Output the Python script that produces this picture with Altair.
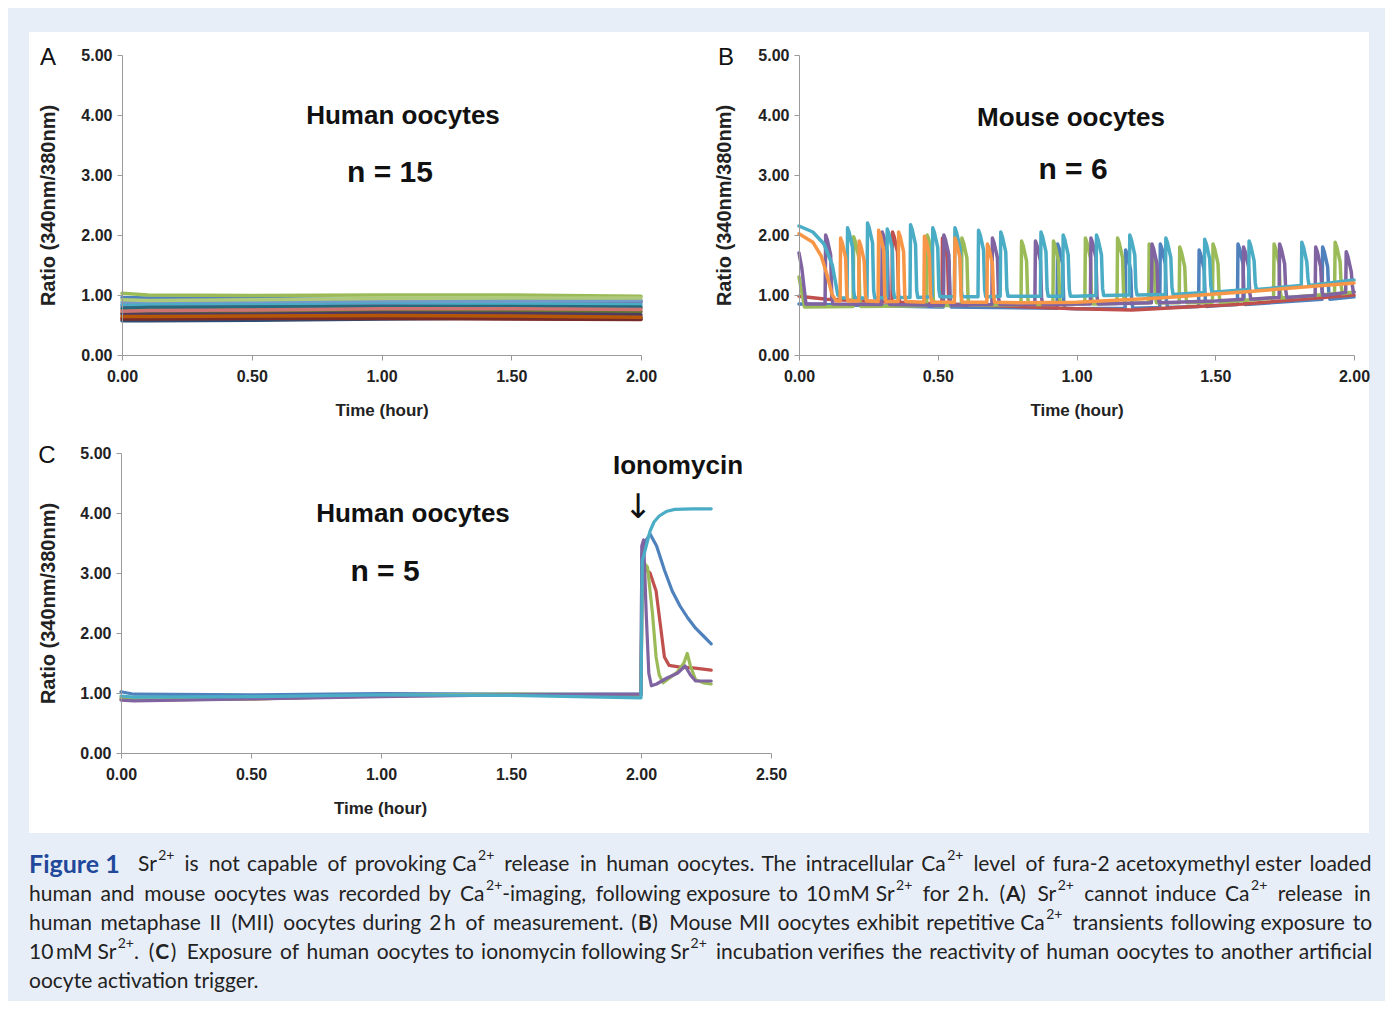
import re
import altair as alt
import pandas as pd

# ------------------------------------------------------------------ data
RATIO_TICKS = [0, 1, 2, 3, 4, 5]
TIME_TICKS_AB = [0, 0.5, 1.0, 1.5, 2.0]
TIME_TICKS_C = [0, 0.5, 1.0, 1.5, 2.0, 2.5]

EXCEL_COLORS = ["#4F81BD", "#C0504D", "#9BBB59", "#8064A2", "#4BACC6", "#F79646",
                "#2C4D75", "#772C2A", "#5F7530", "#4D3B62", "#276A7C", "#B65708",
                "#729ACA", "#CD7371", "#AFC97A"]

# Panel A: 15 human oocytes, ratio read at these times (hour)
A_TIMES = [0.0, 0.1, 0.5, 1.0, 1.5, 2.0]
A_VALUES = [
    [0.96, 0.95, 0.94, 0.92, 0.91, 0.90],
    [0.62, 0.62, 0.63, 0.63, 0.61, 0.60],
    [1.03, 1.00, 0.99, 1.00, 1.00, 0.98],
    [0.82, 0.82, 0.83, 0.84, 0.85, 0.88],
    [0.84, 0.85, 0.86, 0.87, 0.86, 0.84],
    [0.75, 0.76, 0.78, 0.80, 0.79, 0.78],
    [0.57, 0.57, 0.58, 0.60, 0.62, 0.63],
    [0.60, 0.60, 0.61, 0.61, 0.60, 0.59],
    [0.70, 0.70, 0.71, 0.73, 0.73, 0.72],
    [0.68, 0.68, 0.68, 0.70, 0.69, 0.67],
    [0.78, 0.79, 0.80, 0.81, 0.81, 0.80],
    [0.64, 0.64, 0.65, 0.66, 0.65, 0.63],
    [0.88, 0.89, 0.89, 0.90, 0.90, 0.91],
    [0.73, 0.74, 0.75, 0.77, 0.77, 0.76],
    [0.92, 0.91, 0.92, 0.94, 0.95, 0.95],
]

# Panel B: 6 mouse oocytes. Baseline points (t, ratio) and transients (onset, base, peak)
B_BASE = [
    [(0.0, 0.85), (0.5, 0.80), (1.0, 0.77), (1.5, 0.82), (2.0, 0.97)],
    [(0.0, 0.98), (0.1, 0.93), (0.5, 0.85), (1.0, 0.77), (1.2, 0.75), (1.6, 0.85), (2.0, 1.00)],
    [(0.0, 1.30), (0.02, 0.80), (0.5, 0.82), (1.0, 0.85), (1.5, 0.88), (2.0, 1.05)],
    [(0.0, 1.70), (0.01, 1.45), (0.025, 0.85), (0.5, 0.83), (1.0, 0.85), (1.5, 0.90), (2.0, 1.05)],
    [(0.0, 2.15), (0.05, 2.05), (0.09, 1.85), (0.12, 1.50), (0.14, 1.00), (0.15, 0.95),
     (0.5, 0.97), (1.0, 0.98), (1.5, 1.05), (2.0, 1.25)],
    [(0.0, 2.02), (0.05, 1.88), (0.08, 1.65), (0.10, 1.35), (0.12, 1.00), (0.135, 0.90),
     (0.5, 0.88), (0.8, 0.87), (1.0, 0.88), (1.3, 0.95), (1.6, 1.05), (2.0, 1.20)],
]
B_SPIKES = [
    [(0.52, 0.80, 1.90), (0.93, 0.78, 1.85), (1.175, 0.78, 1.75), (1.30, 0.79, 1.85),
     (1.44, 0.81, 1.75), (1.58, 0.84, 1.85), (1.885, 0.93, 1.80)],
    [(0.335, 0.88, 2.05), (0.515, 0.85, 1.95)],
    [(0.195, 0.81, 1.97), (0.46, 0.82, 2.00), (0.585, 0.83, 1.95), (0.80, 0.84, 1.90),
     (0.915, 0.84, 1.90), (1.03, 0.85, 1.95), (1.146, 0.86, 1.95), (1.26, 0.87, 1.85),
     (1.37, 0.87, 1.80), (1.49, 0.88, 1.85), (1.71, 0.95, 1.85), (1.93, 1.02, 1.88)],
    [(0.094, 0.85, 2.00), (0.298, 0.84, 2.05), (0.52, 0.83, 2.00), (0.695, 0.84, 1.95),
     (0.85, 0.84, 1.90), (1.05, 0.85, 1.95), (1.27, 0.87, 1.85), (1.60, 0.93, 1.80),
     (1.73, 0.96, 1.85), (1.86, 0.99, 1.80), (1.97, 1.04, 1.72)],
    [(0.173, 0.95, 2.12), (0.245, 0.95, 2.20), (0.316, 0.96, 2.10), (0.40, 0.96, 2.17),
     (0.48, 0.97, 2.12), (0.56, 0.97, 2.12), (0.645, 0.97, 2.08), (0.725, 0.98, 2.05),
     (0.87, 0.98, 2.05), (0.95, 0.98, 2.00), (1.07, 0.99, 2.00), (1.19, 1.00, 2.00),
     (1.32, 1.01, 1.95), (1.46, 1.04, 1.93), (1.62, 1.09, 1.90), (1.81, 1.16, 1.88)],
    [(0.148, 0.90, 1.95), (0.215, 0.90, 1.90), (0.285, 0.89, 2.08), (0.357, 0.89, 2.05),
     (0.45, 0.88, 1.98), (0.56, 0.88, 1.95), (0.677, 0.88, 1.85)],
]
B_COLORS = ["#4F81BD", "#C0504D", "#9BBB59", "#8064A2", "#4BACC6", "#F79646"]
SPIKE_DT = [0.0, 0.002, 0.008, 0.020, 0.024, 0.028]

# Panel C: 5 human oocytes, Sr2+ then ionomycin at 2 h
C_SERIES = [
    [(0.0, 1.02), (0.05, 0.98), (0.5, 0.97), (1.0, 0.99), (1.5, 0.98), (2.0, 0.98),
     (2.003, 3.30), (2.02, 3.55), (2.035, 3.65), (2.06, 3.45), (2.09, 3.05), (2.12, 2.70),
     (2.15, 2.45), (2.18, 2.25), (2.21, 2.08), (2.24, 1.95), (2.27, 1.82)],
    [(0.0, 0.90), (0.05, 0.88), (0.5, 0.90), (1.0, 0.95), (1.5, 0.97), (2.0, 0.97),
     (2.005, 3.10), (2.035, 3.00), (2.058, 2.70), (2.077, 2.05), (2.09, 1.60), (2.108, 1.46),
     (2.15, 1.43), (2.20, 1.42), (2.27, 1.38)],
    [(0.0, 0.92), (0.05, 0.89), (0.5, 0.90), (1.0, 0.96), (1.5, 0.98), (2.0, 0.97),
     (2.005, 3.20), (2.025, 3.10), (2.044, 2.33), (2.058, 1.60), (2.07, 1.30), (2.085, 1.17),
     (2.11, 1.25), (2.14, 1.35), (2.165, 1.50), (2.178, 1.66), (2.19, 1.45), (2.21, 1.22),
     (2.24, 1.17), (2.27, 1.15)],
    [(0.0, 0.88), (0.05, 0.87), (0.5, 0.90), (1.0, 0.94), (1.5, 0.97), (2.0, 0.98),
     (2.003, 3.45), (2.01, 3.55), (2.02, 2.33), (2.03, 1.33), (2.04, 1.12), (2.06, 1.15),
     (2.10, 1.25), (2.14, 1.33), (2.17, 1.45), (2.19, 1.30), (2.21, 1.20), (2.27, 1.20)],
    [(0.0, 0.95), (0.05, 0.93), (0.5, 0.94), (1.0, 0.97), (1.5, 0.96), (2.0, 0.92),
     (2.005, 3.20), (2.02, 3.45), (2.035, 3.70), (2.05, 3.85), (2.07, 3.95), (2.10, 4.03),
     (2.13, 4.06), (2.20, 4.07), (2.27, 4.07)],
]
C_COLORS = ["#4F81BD", "#C0504D", "#9BBB59", "#8064A2", "#4BACC6"]

# Caption: ^x = superscript, *x* = bold; lines 0-3 justified, line 4 ragged
FIG_LABEL = "Figure 1"
CAPTION_LINES = [
    "Sr^2+ is not capable of provoking Ca^2+ release in human oocytes. The intracellular "
    "Ca^2+ level of fura-2 acetoxymethyl ester loaded",
    "human and mouse oocytes was recorded by Ca^2+-imaging, following exposure to "
    "10\u2009mM Sr^2+ for 2\u2009h. (*A*) Sr^2+ cannot induce Ca^2+ release in",
    "human metaphase II (MII) oocytes during 2\u2009h of measurement. (*B*) Mouse MII oocytes "
    "exhibit repetitive Ca^2+ transients following exposure to",
    "10\u2009mM Sr^2+. (*C*) Exposure of human oocytes to ionomycin following Sr^2+ incubation "
    "verifies the reactivity of human oocytes to another artificial",
    "oocyte activation trigger.",
]
CAPTION_LINE_Y = [865, 895, 924, 953, 982]
CAPTION_LINE_X0 = [138, 29, 29, 29, 29]

# ------------------------------------------------------------------ layout
W, H = 1377, 993
M = 8  # page margin: chart px = page px - 8
A_X, A_Y = [114, 633], [347, 47]
B_X, B_Y = [791, 1346], [347, 47]
C_X, C_Y = [113, 763], [745, 445]
CAP_RIGHT = 1370

AX_FONT = "Liberation Sans"
CAP_FONT = "Lato"
AXC = "#9a9a9a"


def axis_x(off, values, title_x=None):
    kw = dict(titleX=title_x) if title_x is not None else {}
    return alt.Axis(orient="bottom", offset=off, values=values, format=".2f", grid=False,
                    zindex=2, domainColor=AXC, tickColor=AXC, tickSize=5, labelPadding=8,
                    labelFont=AX_FONT, labelFontSize=16, labelFontWeight="bold",
                    labelColor="#222", labelFlush=False, labelOverlap=False,
                    title="Time (hour)", titleFont=AX_FONT, titleFontSize=17,
                    titleFontWeight="bold", titleColor="#222", titleY=55,
                    titleBaseline="middle", **kw)


def axis_y(off, ymid, tx=-74):
    return alt.Axis(orient="left", offset=off, values=RATIO_TICKS, format=".2f", grid=False,
                    zindex=2, domainColor=AXC, tickColor=AXC, tickSize=5, labelPadding=5,
                    labelFont=AX_FONT, labelFontSize=16, labelFontWeight="bold",
                    labelColor="#222", labelOverlap=False,
                    title="Ratio (340nm/380nm)", titleFont=AX_FONT, titleFontSize=20,
                    titleFontWeight="bold", titleColor="#222", titleX=tx, titleY=ymid,
                    titleBaseline="middle", titleAngle=270)


# ---- data frames
rows = []
for i, vals in enumerate(A_VALUES):
    for t, v in zip(A_TIMES, vals):
        rows.append({"s": f"a{i:02d}", "t": t, "v": v})
dfA = pd.DataFrame(rows)

rows = []
for i, (base, spikes) in enumerate(zip(B_BASE, B_SPIKES)):
    pts = []
    windows = [(s[0], s[0] + SPIKE_DT[-1]) for s in spikes]
    for t, v in base:
        if not any(a <= t <= b for a, b in windows):
            pts.append((t, v))
    for ton, b, p in spikes:
        shape = [b, p, p - 0.08, p - 0.33, b + 0.12, b]
        for dt, v in zip(SPIKE_DT, shape):
            pts.append((ton + dt, v))
    pts.sort()
    for t, v in pts:
        rows.append({"s": f"b{i:02d}", "t": t, "v": v})
dfB = pd.DataFrame(rows)

rows = []
for i, ser in enumerate(C_SERIES):
    for t, v in ser:
        rows.append({"s": f"c{i:02d}", "t": t, "v": v})
dfC = pd.DataFrame(rows)


def lines(df, colors, xr, yr, xdom, xaxis, yaxis, sw):
    names = sorted(df["s"].unique())
    return alt.Chart(df).mark_line(strokeWidth=sw, strokeJoin="round", strokeCap="round").encode(
        x=alt.X("t:Q", scale=alt.Scale(domain=xdom, range=xr, nice=False, zero=False), axis=xaxis),
        y=alt.Y("v:Q", scale=alt.Scale(domain=[0, 5], range=yr, nice=False), axis=yaxis),
        color=alt.Color("s:N", scale=alt.Scale(domain=names, range=colors), legend=None),
        order=alt.Order("t:Q"),
    )


layerA = lines(dfA, EXCEL_COLORS, A_X, A_Y, [0, 2], axis_x(A_Y[0] - H, TIME_TICKS_AB),
               axis_y(-A_X[0], sum(A_Y) / 2, -74), 3.5)
layerB = lines(dfB, B_COLORS, B_X, B_Y, [0, 2], axis_x(B_Y[0] - H, TIME_TICKS_AB),
               axis_y(-B_X[0], sum(B_Y) / 2, -75), 3.5)
layerC = lines(dfC, C_COLORS, C_X, C_Y, [0, 2.5], axis_x(C_Y[0] - H, TIME_TICKS_C, 380 - M),
               axis_y(-C_X[0], sum(C_Y) / 2, -73), 3.2)

white = alt.Chart(pd.DataFrame({"k": [0]})).mark_rect(color="white").encode(
    x=alt.value(29 - M), x2=alt.value(1369 - M), y=alt.value(32 - M), y2=alt.value(833 - M))


def txt(items, font, size, weight="normal", color="#111", align="center", baseline="middle"):
    df = pd.DataFrame(items, columns=["x", "y", "text"])
    return alt.Chart(df).mark_text(font=font, fontSize=size, fontWeight=weight, color=color,
                                   align=align, baseline=baseline).encode(
        x=alt.X("x:Q", scale=None, axis=None),
        y=alt.Y("y:Q", scale=None, axis=None),
        text="text:N")


panel_letters = txt([(48 - M, 58 - M, "A"), (726 - M, 58 - M, "B"), (47 - M, 456 - M, "C")],
                    "Liberation Sans", 24)
titles = txt([(403 - M, 116 - M, "Human oocytes"), (1071 - M, 118 - M, "Mouse oocytes"),
              (413 - M, 514 - M, "Human oocytes"), (678 - M, 466 - M, "Ionomycin")],
             AX_FONT, 26, "bold")
ns = txt([(390 - M, 173 - M, "n = 15"), (1073 - M, 170 - M, "n = 6"), (385 - M, 572 - M, "n = 5")],
         AX_FONT, 30, "bold")
arrow = txt([(638 - M, 508 - M, "\u2193")], "DejaVu Sans", 34)

# ---- caption typesetting (approximate glyph advances per 1000 em)
AW = {" ": 278, "\u2009": 190, ".": 278, ",": 278, "-": 333, "(": 333, ")": 333, "+": 584,
      "I": 290, "M": 833, "S": 640, "C": 722, "T": 611, "E": 667, "A": 667, "B": 667, "F": 611,
      "i": 250, "l": 250, "j": 250, "f": 305, "t": 305, "r": 350, "m": 833, "w": 722,
      "c": 500, "k": 500, "s": 470, "v": 500, "x": 500, "y": 500, "z": 500}
FONT_K = 0.95
CAP_SIZE, SUP_SIZE, FIG_SIZE = 21, 14, 25


def tw(text, size, bold=False):
    return sum(AW.get(ch, 556) for ch in text) / 1000 * size * FONT_K * (1.07 if bold else 1.0)


TOKEN = re.compile(r"\^([0-9+]+)|\*([^*]+)\*|([^\^*]+)")


def parse_word(word):
    parts = []
    for sup, bold, norm in TOKEN.findall(word):
        if sup:
            parts.append((sup, "sup", tw(sup, SUP_SIZE) + 1.5))
        elif bold:
            parts.append((bold, "b", tw(bold, CAP_SIZE, True)))
        else:
            parts.append((norm, "n", tw(norm, CAP_SIZE)))
    return parts


cap_items = {"n": [], "b": [], "sup": []}
for li, line in enumerate(CAPTION_LINES):
    y = CAPTION_LINE_Y[li] - M
    x0 = CAPTION_LINE_X0[li]
    if li == len(CAPTION_LINES) - 1:          # last line: not justified
        cap_items["n"].append((x0 - M, y, line))
        continue
    words = [parse_word(w) for w in line.split(" ")]
    widths = [sum(p[2] for p in w) for w in words]
    gap = (CAP_RIGHT - x0 - sum(widths)) / (len(words) - 1)
    x = x0
    for w, wd in zip(words, widths):
        px = x
        for text, kind, pw in w:
            if kind == "sup":
                cap_items["sup"].append((px + 0.5 - M, y - 9, text))
            else:
                cap_items[kind].append((px - M, y, text))
            px += pw
        x += wd + gap

CAPC = "#222222"
caption_layers = [
    txt(cap_items["n"], CAP_FONT, CAP_SIZE, "normal", CAPC, "left"),
    txt(cap_items["b"], CAP_FONT, CAP_SIZE, "bold", CAPC, "left"),
    txt(cap_items["sup"], CAP_FONT, SUP_SIZE, "normal", CAPC, "left"),
    txt([(29 - M, CAPTION_LINE_Y[0] - M, FIG_LABEL)], CAP_FONT, FIG_SIZE, "bold", "#21489a", "left"),
]

chart = alt.layer(white, layerA, layerB, layerC, panel_letters, titles, ns, arrow,
                  *caption_layers).resolve_scale(
    x="independent", y="independent", color="independent"
).properties(
    width=W, height=H, autosize=alt.AutoSizeParams(type="none"), padding=0,
    background="#e8eef8"
).configure_view(stroke=None)

chart.save("out.html", embed_options={"renderer": "svg", "actions": False})
